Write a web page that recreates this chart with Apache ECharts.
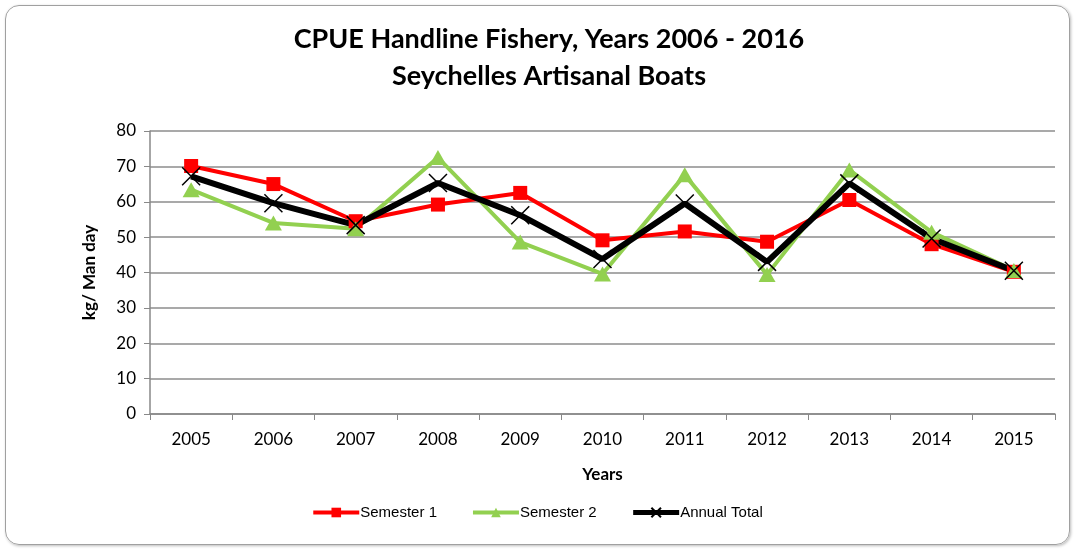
<!DOCTYPE html>
<html><head><meta charset="utf-8">
<script src="https://cdn.jsdelivr.net/npm/echarts@6/dist/echarts.min.js"></script>
<style>
html,body{margin:0;padding:0;background:#fff;}
#frame{position:absolute;left:5px;top:5px;width:1063px;height:538px;border:1.5px solid #a0a0a0;border-radius:14px;box-shadow:1px 1px 3px #bbb;}
#c{position:absolute;left:0;top:0;width:1074px;height:550px;}
</style></head>
<body>
<div id="frame"></div>
<div id="c"></div>
<script>
var years = ['2005','2006','2007','2008','2009','2010','2011','2012','2013','2014','2015'];
var semester1 = [70.1, 65.0, 54.5, 59.2, 62.5, 49.1, 51.6, 48.7, 60.5, 48.0, 40.2];
var semester2 = [63.4, 54.0, 52.4, 72.5, 48.6, 39.6, 67.6, 39.4, 69.0, 51.4, 40.6];
var annualTotal = [67.2, 59.6, 53.4, 65.3, 56.2, 43.8, 59.5, 43.0, 65.2, 49.6, 40.5];
var yTicks = [0,10,20,30,40,50,60,70,80];

var xSym = 'path://M0,0L10,10M10,0L0,10';
var chart = echarts.init(document.getElementById('c'));
chart.setOption({
  backgroundColor: 'transparent',
  animation: false,
  title: {
    text: 'CPUE Handline Fishery, Years 2006 - 2016\nSeychelles Artisanal Boats',
    left: 544, top: 16, textAlign: 'center',
    textStyle: {fontFamily: 'Lato', fontWeight: 'bold', fontSize: 27, lineHeight: 37, color: '#000'}
  },
  legend: {
    bottom: 25, left: 'center', itemGap: 34, itemWidth: 46, itemHeight: 12,
    textStyle: {fontFamily: 'Liberation Sans', fontSize: 15, color: '#000', padding: [0,0,0,-4]},
    data: [
      {name: 'Semester 1', lineStyle: {width: 4}},
      {name: 'Semester 2', lineStyle: {width: 4}},
      {name: 'Annual Total', lineStyle: {width: 5}}
    ]
  },
  grid: {left: 150, right: 19, top: 131, bottom: 136},
  xAxis: {
    type: 'category', data: years, boundaryGap: true,
    name: 'Years', nameLocation: 'middle', nameGap: 52,
    nameTextStyle: {fontFamily: 'Lato', fontWeight: 'bold', fontSize: 17, color: '#000'},
    axisLine: {lineStyle: {color: '#888', width: 1.5}},
    axisTick: {show: true, length: 6, lineStyle: {color: '#888'}},
    axisLabel: {fontFamily: 'Lato', fontSize: 17, color: '#000', margin: 17}
  },
  yAxis: {
    type: 'value', min: yTicks[0], max: yTicks[yTicks.length-1], interval: 10,
    name: 'kg/ Man day', nameLocation: 'middle', nameGap: 52,
    nameTextStyle: {fontFamily: 'Lato', fontWeight: 'bold', fontSize: 17, color: '#000'},
    axisLine: {show: true, lineStyle: {color: '#888', width: 1.5}},
    axisTick: {show: true, length: 6, lineStyle: {color: '#888'}},
    axisLabel: {fontFamily: 'Lato', fontSize: 17, color: '#000', margin: 14},
    splitLine: {lineStyle: {color: '#8c8c8c', width: 1.5}}
  },
  series: [
    {name: 'Semester 1', type: 'line', data: semester1, symbol: 'rect', symbolSize: 14,
     lineStyle: {color: '#ff0000', width: 4}, itemStyle: {color: '#ff0000'}},
    {name: 'Semester 2', type: 'line', data: semester2, symbol: 'triangle', symbolSize: [17,15],
     lineStyle: {color: '#92d050', width: 4}, itemStyle: {color: '#92d050'}},
    {name: 'Annual Total', type: 'line', data: annualTotal, symbol: xSym, symbolSize: 18,
     lineStyle: {color: '#000', width: 6},
     itemStyle: {color: 'none', borderColor: '#000', borderWidth: 1.5}}
  ]
});
</script>
</body></html>
